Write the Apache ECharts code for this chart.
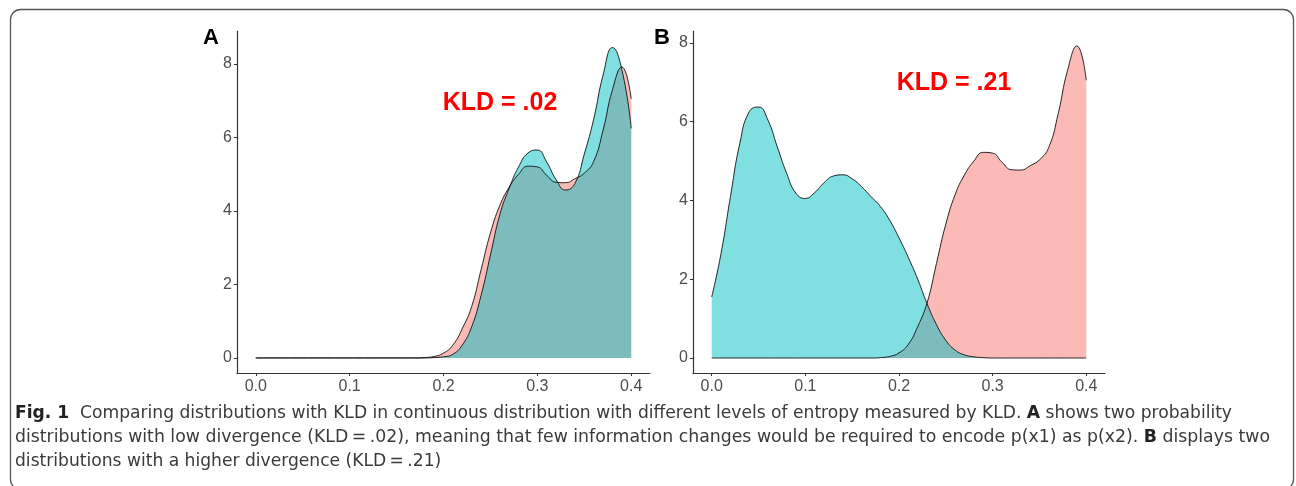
<!DOCTYPE html>
<html>
<head><meta charset="utf-8"></head>
<script type="text/javascript" src="https://cdn.jsdelivr.net/npm/echarts@6/dist/echarts.min.js"></script>
<body style="margin:0;background:#fff;">
<div id="main" style="width:1296px;height:486px;"></div>
<script type="text/javascript">
// x grid of the density estimates
var xs = [0.00,0.01,0.02,0.03,0.04,0.05,0.06,0.07,0.08,0.09,
          0.10,0.11,0.12,0.13,0.14,0.15,0.16,0.17,0.18,0.19,
          0.20,0.21,0.22,0.23,0.24,0.25,0.26,0.27,0.28,0.29,
          0.30,0.31,0.32,0.33,0.34,0.35,0.36,0.37,0.38,0.39,0.40];

// p(x1) - the red one, same in both panels
var p1 = [0,0,0,0,0,0,0,0,0,0,
          0,0,0,0,0,0,0,0,0.01,0.04,
          0.13,0.35,0.8,1.4,2.4,3.4,4.15,4.65,5.0,5.22,
          5.2,4.97,4.78,4.77,4.88,5.03,5.35,6.2,7.3,7.92,7.05];

// p(x2) panel A - cyan, low divergence
var p2A = [0,0,0,0,0,0,0,0,0,0,
           0,0,0,0,0,0,0,0,0,0.01,
           0.03,0.1,0.35,0.85,1.7,2.8,3.9,4.62,5.2,5.58,
           5.66,5.33,4.85,4.57,4.75,5.55,6.5,7.7,8.45,7.85,6.25];

// p(x2) panel B - cyan, high divergence
var p2B = [1.55,2.66,4.1,5.45,6.25,6.37,6.04,5.36,4.69,4.18,
           4.05,4.2,4.45,4.62,4.65,4.55,4.35,4.1,3.85,3.5,
           3.05,2.55,2.0,1.38,0.85,0.45,0.2,0.08,0.03,0.01,
           0,0,0,0,0,0,0,0,0,0,0];

var xTicks = [0, 0.1, 0.2, 0.3, 0.4];
var yTicks = [0, 2, 4, 6, 8];
var kldA = 'KLD = .02';
var kldB = 'KLD = .21';

var captionLines = [
    [['b','Fig. 1'],['n','  Comparing distributions with KLD in continuous distribution with different levels of entropy measured by KLD. '],['b','A'],['n',' shows two probability']],
    [['n','distributions with low divergence (KLD\u2009=\u2009.02), meaning that few information changes would be required to encode p(x1) as p(x2). '],['b','B'],['n',' displays two']],
    [['n','distributions with a higher divergence (KLD\u2009=\u2009.21)']]
];
var captionWidth = [1217, 1255, 432];

function pairs(vals){
    var out = [];
    for (var i = 0; i < xs.length; i++) out.push([xs[i], vals[i]]);
    return out;
}

var tickFont = 'Liberation Sans, Arial, sans-serif';
var capFont = 'Liberation Sans Narrow, DejaVu Sans Condensed, Arial Narrow, sans-serif';
var capSize = 18;

function xAx(idx){
    return {
        type: 'value', gridIndex: idx, min: -0.02, max: 0.42,
        splitLine: {show: false},
        axisLine: {onZero: false, lineStyle: {color: '#333', width: 1.2}},
        axisTick: {customValues: xTicks, length: 3, lineStyle: {color: '#333'}},
        axisLabel: {customValues: xTicks, color: '#4d4d4d', fontSize: 16, fontFamily: tickFont, margin: 6,
            formatter: function(v){ return v.toFixed(1); }}
    };
}
function yAx(idx, lo, hi){
    return {
        type: 'value', gridIndex: idx, min: lo, max: hi,
        splitLine: {show: false},
        axisLine: {show: true, onZero: false, lineStyle: {color: '#333', width: 1.2}},
        axisTick: {show: true, customValues: yTicks, length: 3, lineStyle: {color: '#333'}},
        axisLabel: {customValues: yTicks, color: '#4d4d4d', fontSize: 16, fontFamily: tickFont, margin: 5}
    };
}
function dens(idx, vals, col){
    return {
        type: 'line', xAxisIndex: idx, yAxisIndex: idx,
        data: pairs(vals), symbol: 'none', smooth: 0.5, clip: true,
        lineStyle: {color: '#111', width: 0.9},
        areaStyle: {color: col, opacity: 1},
        silent: true
    };
}

// measure caption lines so the font hits the same line width as the figure
var cvs = document.createElement('canvas').getContext('2d');
function lineWidth(parts){
    var w = 0;
    parts.forEach(function(p){
        cvs.font = (p[0] == 'b' ? 'bold ' : '') + capSize + 'px ' + capFont;
        w += cvs.measureText(p[1]).width;
    });
    return w;
}
var capGraphics = captionLines.map(function(parts, i){
    var txt = parts.map(function(p){ return '{' + p[0] + '|' + p[1].replace(/[{}|]/g,'') + '}'; }).join('');
    var sx = captionWidth[i] / lineWidth(parts);
    if (i == 2) sx = Math.min(sx, captionWidth[0] / lineWidth(captionLines[0]));
    return {
        type: 'text', x: 15, y: 413 + i * 24, scaleX: sx, originX: 0,
        style: {
            text: txt, fill: '#3a3a3a', fontSize: capSize, fontFamily: capFont,
            verticalAlign: 'middle', align: 'left',
            rich: {
                n: {fontSize: capSize, fontFamily: capFont, fill: '#3a3a3a'},
                b: {fontSize: capSize, fontFamily: capFont, fontWeight: 'bold', fill: '#222'}
            }
        }
    };
});

var myChart = echarts.init(document.getElementById('main'), null, {renderer: 'canvas'});
var red = 'rgba(248,118,109,0.5)';
var cyan = 'rgba(0,191,196,0.5)';
var option = {
    animation: false,
    grid: [
        {left: 237, top: 31, width: 413, height: 342},
        {left: 693, top: 31, width: 412, height: 342}
    ],
    xAxis: [xAx(0), xAx(1)],
    yAxis: [yAx(0, -0.41, 8.9), yAx(1, -0.38, 8.3)],
    series: [
        dens(0, p1, red),
        dens(0, p2A, cyan),
        dens(1, p1, red),
        dens(1, p2B, cyan)
    ],
    graphic: [
        {type: 'rect', shape: {x: 10.5, y: 9.5, width: 1283, height: 480, r: 10},
         style: {fill: 'none', stroke: '#555', lineWidth: 1.3}, silent: true},
        {type: 'text', x: 203, y: 38, style: {text: 'A', fontSize: 22, fontWeight: 'bold', fontFamily: tickFont, fill: '#000', verticalAlign: 'middle'}},
        {type: 'text', x: 654, y: 38, style: {text: 'B', fontSize: 22, fontWeight: 'bold', fontFamily: tickFont, fill: '#000', verticalAlign: 'middle'}},
        {type: 'text', x: 500, y: 103, style: {text: kldA, fontSize: 25, fontWeight: 'bold', fontFamily: tickFont, fill: '#ff0000', align: 'center', verticalAlign: 'middle'}},
        {type: 'text', x: 954, y: 83, style: {text: kldB, fontSize: 25, fontWeight: 'bold', fontFamily: tickFont, fill: '#ff0000', align: 'center', verticalAlign: 'middle'}}
    ].concat(capGraphics)
};
myChart.setOption(option);
</script>
</body>
</html>
